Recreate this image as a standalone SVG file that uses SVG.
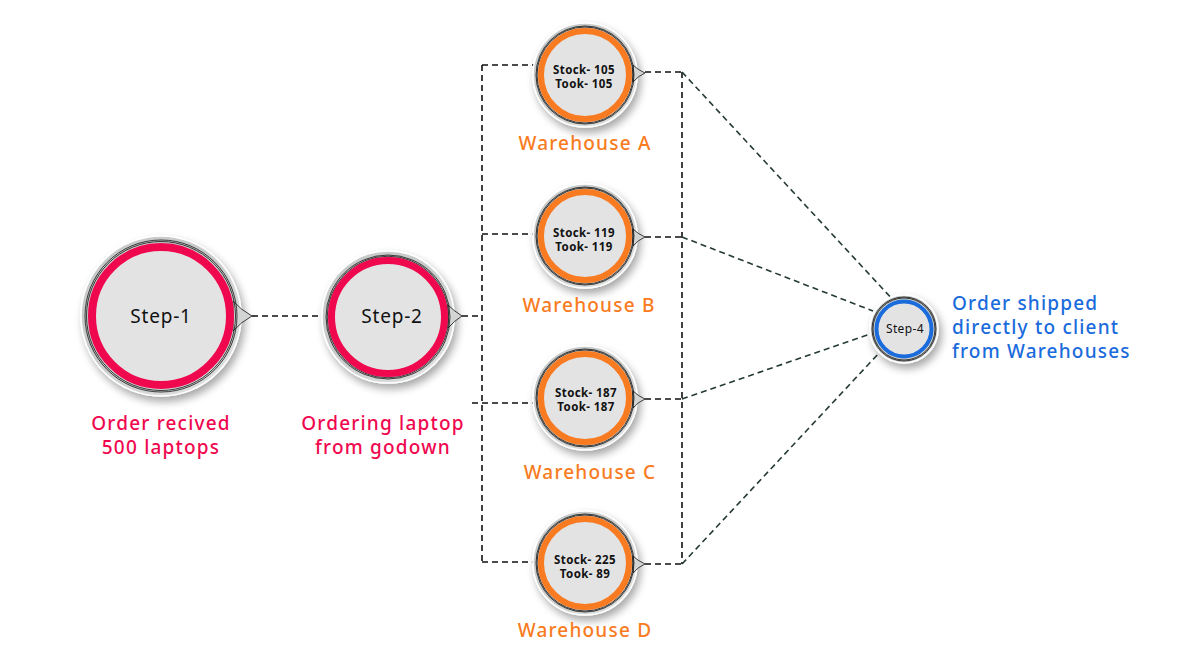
<svg xmlns="http://www.w3.org/2000/svg" width="1200" height="650" viewBox="0 0 1200 650">
<defs>
  <filter id="sh" x="-30%" y="-30%" width="160%" height="160%">
    <feGaussianBlur in="SourceAlpha" stdDeviation="4"/>
    <feOffset dx="3" dy="5" result="b"/>
    <feComponentTransfer><feFuncA type="linear" slope="0.35"/></feComponentTransfer>
    <feMerge><feMergeNode/><feMergeNode in="SourceGraphic"/></feMerge>
  </filter>
  <radialGradient id="rim" cx="0.45" cy="0.45" r="0.6">
    <stop offset="0.8" stop-color="#c9cbcb"/>
    <stop offset="1" stop-color="#e8e9e9"/>
  </radialGradient>
</defs>
<style>
  .bg{fill:#ffffff}
  .outer{fill:url(#rim);stroke:#ffffff;stroke-width:1.5}
  .tail{fill:#d3d5d5;stroke:#111;stroke-width:0.8}
  .bl{fill:none;stroke:#111;stroke-width:0.8}
  .pink{fill:#e3e3e3;stroke:#f0084f}
  .orng{fill:#e3e3e3;stroke:#f87b22}
  .blue{fill:#e3e3e3;stroke:#1a6bdc}
  .dash{fill:none;stroke:#111;stroke-width:1.6;stroke-dasharray:6 4}
  .diag{fill:none;stroke:#253a33;stroke-width:1.6;stroke-dasharray:6 4}
  .step{font-family:'Noto Sans','Liberation Sans',sans-serif;fill:#111;text-anchor:middle;letter-spacing:0.8px}
  .stk{font-family:'Noto Sans','Liberation Sans',sans-serif;font-size:11.5px;font-weight:700;fill:#111;text-anchor:middle;letter-spacing:0.4px}
  .lblp{font-family:'Noto Sans','Liberation Sans',sans-serif;font-size:19px;font-weight:500;fill:#f0084f;text-anchor:middle;letter-spacing:1.2px}
  .lblo{font-family:'Noto Sans','Liberation Sans',sans-serif;font-size:19px;font-weight:500;fill:#f87b22;text-anchor:middle;letter-spacing:1.2px}
  .lblb{font-family:'Noto Sans','Liberation Sans',sans-serif;font-size:19px;font-weight:500;fill:#1a6bdc;letter-spacing:1.2px}
</style>
<rect class="bg" x="0" y="0" width="1200" height="650"/>

<g id="connectors">
  <line class="dash" x1="252" y1="316" x2="322" y2="316"/>
  <line class="dash" x1="462" y1="316" x2="482" y2="316"/>
  <line class="dash" x1="482" y1="65" x2="482" y2="563"/>
  <line class="dash" x1="482" y1="65" x2="540" y2="65"/>
  <line class="dash" x1="482" y1="234" x2="540" y2="234"/>
  <line class="dash" x1="472" y1="403" x2="540" y2="403"/>
  <line class="dash" x1="482" y1="562" x2="540" y2="562"/>
  <line class="dash" x1="682" y1="72" x2="682" y2="564"/>
  <line class="dash" x1="645" y1="72" x2="682" y2="72"/>
  <line class="dash" x1="645" y1="237" x2="682" y2="237"/>
  <line class="dash" x1="645" y1="399" x2="682" y2="399"/>
  <line class="dash" x1="645" y1="564" x2="682" y2="564"/>
  <line class="diag" x1="682" y1="72" x2="894" y2="301"/>
  <line class="diag" x1="682" y1="237" x2="873" y2="311"/>
  <line class="diag" x1="682" y1="399" x2="873" y2="333"/>
  <line class="diag" x1="682" y1="564" x2="880" y2="352"/>
</g>

<g id="step1">
  <circle class="outer" cx="161" cy="316" r="80" filter="url(#sh)"/>
  <path class="tail" d="M233,301 Q241,310 252,316 Q241,322 233,331 Z"/>
  <circle class="bl" cx="161" cy="316" r="76"/>
  <circle class="bl" cx="161" cy="316" r="74.5"/>
  <circle class="pink" cx="161" cy="316" r="69" stroke-width="8"/>
  <text class="step" x="161" y="323" font-size="19">Step-1</text>
  <text class="lblp" x="161" y="430">Order recived</text>
  <text class="lblp" x="161" y="454">500 laptops</text>
</g>

<g id="step2">
  <circle class="outer" cx="388" cy="317" r="66" filter="url(#sh)"/>
  <path class="tail" d="M448,305 Q454,311 462,316 Q454,321 448,328 Z"/>
  <circle class="bl" cx="388" cy="317" r="62"/>
  <circle class="bl" cx="388" cy="317" r="60.8"/>
  <circle class="pink" cx="388" cy="317" r="56.5" stroke-width="7"/>
  <text class="step" x="392" y="323" font-size="19">Step-2</text>
  <text class="lblp" x="383" y="430">Ordering laptop</text>
  <text class="lblp" x="383" y="454">from godown</text>
</g>

<g id="warehouseA">
  <circle class="outer" cx="585" cy="75" r="52" filter="url(#sh)"/>
  <path class="tail" d="M633,65 Q638,70 645,73 Q638,76 633,82 Z"/>
  <circle class="bl" cx="585" cy="75" r="49"/>
  <circle class="bl" cx="585" cy="75" r="48"/>
  <circle class="orng" cx="585" cy="75" r="44" stroke-width="6"/>
  <text class="stk" x="584" y="74">Stock- 105</text>
  <text class="stk" x="584" y="88">Took- 105</text>
  <text class="lblo" x="585" y="150">Warehouse A</text>
</g>

<g id="warehouseB">
  <circle class="outer" cx="585" cy="236" r="52" filter="url(#sh)"/>
  <path class="tail" d="M633,229 Q638,234 645,237 Q638,240 633,246 Z"/>
  <circle class="bl" cx="585" cy="236" r="49"/>
  <circle class="bl" cx="585" cy="236" r="48"/>
  <circle class="orng" cx="585" cy="236" r="44" stroke-width="6"/>
  <text class="stk" x="584" y="237">Stock- 119</text>
  <text class="stk" x="584" y="251">Took- 119</text>
  <text class="lblo" x="589" y="312">Warehouse B</text>
</g>

<g id="warehouseC">
  <circle class="outer" cx="585" cy="398" r="52" filter="url(#sh)"/>
  <path class="tail" d="M633,391 Q638,396 645,399 Q638,402 633,408 Z"/>
  <circle class="bl" cx="585" cy="398" r="49"/>
  <circle class="bl" cx="585" cy="398" r="48"/>
  <circle class="orng" cx="585" cy="398" r="44" stroke-width="6"/>
  <text class="stk" x="586" y="397">Stock- 187</text>
  <text class="stk" x="586" y="411">Took- 187</text>
  <text class="lblo" x="590" y="479">Warehouse C</text>
</g>

<g id="warehouseD">
  <circle class="outer" cx="585" cy="563" r="52" filter="url(#sh)"/>
  <path class="tail" d="M633,556 Q638,561 645,564 Q638,567 633,573 Z"/>
  <circle class="bl" cx="585" cy="563" r="49"/>
  <circle class="bl" cx="585" cy="563" r="48"/>
  <circle class="orng" cx="585" cy="563" r="44" stroke-width="6"/>
  <text class="stk" x="585" y="564">Stock- 225</text>
  <text class="stk" x="585" y="578">Took- 89</text>
  <text class="lblo" x="585" y="637">Warehouse D</text>
</g>

<g id="step4">
  <circle class="outer" cx="904" cy="329" r="34" filter="url(#sh)"/>
  <circle class="bl" cx="904" cy="329" r="32"/>
  <circle class="bl" cx="904" cy="329" r="31"/>
  <circle class="blue" cx="904" cy="329" r="27.5" stroke-width="4"/>
  <text class="step" x="905" y="333" font-size="12" style="letter-spacing:0.4px">Step-4</text>
  <text class="lblb" x="952" y="310">Order shipped</text>
  <text class="lblb" x="952" y="334">directly to client</text>
  <text class="lblb" x="952" y="358">from Warehouses</text>
</g>
</svg>
